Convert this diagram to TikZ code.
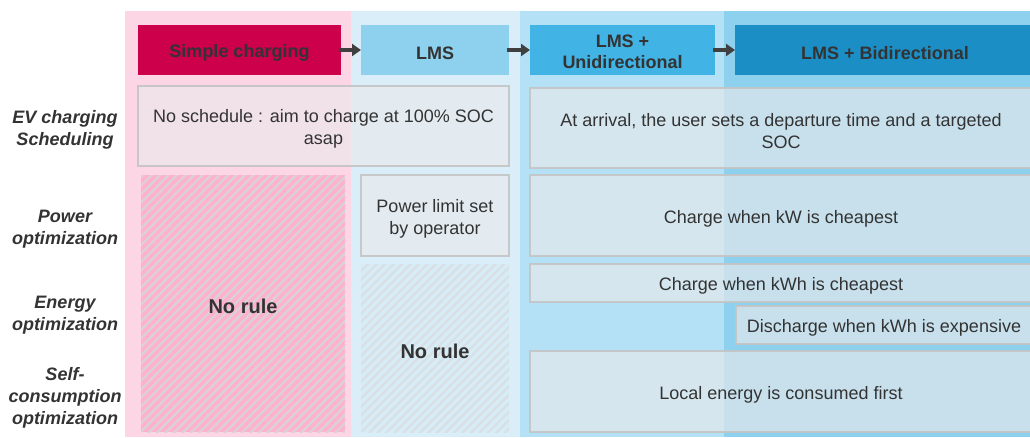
\documentclass[tikz,border=0pt]{standalone}
\usepackage{fontspec}
\setmainfont{Liberation Sans}
\usetikzlibrary{arrows.meta,patterns.meta}
\definecolor{pinkbg}{HTML}{FDD6E6}
\definecolor{lmsbg}{HTML}{DAEEF9}
\definecolor{unibg}{HTML}{B4E1F5}
\definecolor{bibg}{HTML}{8ED1EE}
\definecolor{hsimple}{HTML}{CC004B}
\definecolor{hlms}{HTML}{8DD1EF}
\definecolor{huni}{HTML}{41B3E4}
\definecolor{hbi}{HTML}{1B8EC6}
\definecolor{boxfill}{HTML}{EAEAEB}
\definecolor{boxline}{HTML}{C4C4C4}
\definecolor{txt}{HTML}{333333}
\definecolor{arrowc}{HTML}{404040}
\definecolor{pinkstripe}{HTML}{FFB1CD}
\definecolor{greystripe}{HTML}{D9D2D6}
\definecolor{bluebase}{HTML}{D6ECF7}
\definecolor{bluegrey}{HTML}{DADFE3}
\tikzset{
  head/.style={font=\fontsize{18pt}{21pt}\selectfont\bfseries, text=txt, inner sep=0pt, outer sep=0pt, align=center, anchor=north west},
  box/.style={draw=boxline, line width=1.2pt, fill=boxfill, fill opacity=0.62, draw opacity=0.9, inner sep=0pt, outer sep=0pt, anchor=north west},
  boxtext/.style={font=\fontsize{18pt}{22pt}\selectfont, text=txt, inner sep=0pt, align=center},
  rowlabel/.style={font=\fontsize{18pt}{22pt}\selectfont\bfseries\itshape, text=txt, align=center},
  norule/.style={font=\fontsize{20pt}{24pt}\selectfont\bfseries, text=txt, inner sep=0pt},
  hatchpink/.style={preaction={fill=pinkstripe}, pattern={Lines[angle=45,distance=6pt,line width=2.2pt]}, pattern color=greystripe, inner sep=0pt, outer sep=0pt, anchor=north west},
  hatchblue/.style={preaction={fill=bluebase}, pattern={Lines[angle=45,distance=6pt,line width=2.2pt]}, pattern color=bluegrey, inner sep=0pt, outer sep=0pt, anchor=north west},
  link/.style={draw=arrowc, line width=4pt, -{Triangle[length=9pt,width=12pt]}},
}
\begin{document}
\begin{tikzpicture}[x=1pt,y=-1pt]
\useasboundingbox (0,0) rectangle (1030,437);
% column backgrounds
\fill[pinkbg] (125,11) rectangle (351,437);
\fill[lmsbg] (351,11) rectangle (520,437);
\fill[unibg] (520,11) rectangle (724,437);
\fill[bibg] (724,11) rectangle (1030,437);
% headers
\node[head, fill=hsimple, minimum width=203pt, minimum height=50pt] (hs) at (138,25) {};
\node[head, fill=hlms, minimum width=148pt, minimum height=50pt] (hl) at (361,25) {};
\node[head, fill=huni, minimum width=185pt, minimum height=50pt] (hu) at (530,25) {};
\node[head, fill=hbi, minimum width=300pt, minimum height=50pt] (hb) at (735,25) {};
\node[head, anchor=center] (ths) at ([yshift=-3pt]hs.center) {Simple charging};
\node[head, anchor=center] (thl) at ([yshift=-3pt]hl.center) {LMS};
\node[head, anchor=center] (thu) at ([yshift=-2pt]hu.center) {LMS +\\Unidirectional};
\node[head, anchor=center] (thb) at ([yshift=-3pt]hb.center) {LMS + Bidirectional};
\draw[link] ([xshift=-2pt]hs.east) -- (hl.west);
\draw[link] ([xshift=-2pt]hl.east) -- (hu.west);
\draw[link] ([xshift=-2pt]hu.east) -- (hb.west);
% row labels
\node[rowlabel] (r1) at (65,130) {EV charging\\Scheduling};
\node[rowlabel] (r2) at (65,229) {Power\\optimization};
\node[rowlabel] (r3) at (65,315) {Energy\\optimization};
\node[rowlabel] (r4) at (65,398) {Self-\\consumption\\optimization};
% hatched areas
\node[hatchpink, minimum width=204pt, minimum height=257pt] (nr1) at (141,175) {};
\node[norule] (tnr1) at ([yshift=-3pt]nr1.center) {No rule};
\node[hatchblue, minimum width=148pt, minimum height=168pt] (nr2) at (361,264) {};
\node[norule] (tnr2) at ([yshift=-3pt]nr2.center) {No rule};
% boxes
\node[box, minimum width=371pt, minimum height=80pt] (s1) at (138,86) {};
\node[boxtext] (ts1) at ([yshift=-3pt]s1.center) {No schedule : aim to charge at 100\% SOC\\asap};
\node[box, minimum width=502pt, minimum height=80pt] (s2) at (530,88) {};
\node[boxtext] (ts2) at ([yshift=-3pt]s2.center) {At arrival, the user sets a departure time and a targeted\\SOC};
\node[box, minimum width=148pt, minimum height=81pt] (p1) at (361,175) {};
\node[boxtext] (tp1) at ([yshift=-3pt]p1.center) {Power limit set\\by operator};
\node[box, minimum width=502pt, minimum height=81pt] (p2) at (530,175) {};
\node[boxtext] (tp2) at ([yshift=-3pt]p2.center) {Charge when kW is cheapest};
\node[box, minimum width=502pt, minimum height=38pt] (e1) at (530,264) {};
\node[boxtext] (te1) at ([yshift=-3pt]e1.center) {Charge when kWh is cheapest};
\node[box, minimum width=296pt, minimum height=38pt] (e2) at (736,306) {};
\node[boxtext] (te2) at ([yshift=-3pt]e2.center) {Discharge when kWh is expensive};
\node[box, minimum width=502pt, minimum height=81pt] (l1) at (530,351) {};
\node[boxtext] (tl1) at ([yshift=-3pt]l1.center) {Local energy is consumed first};
\end{tikzpicture}
\end{document}
